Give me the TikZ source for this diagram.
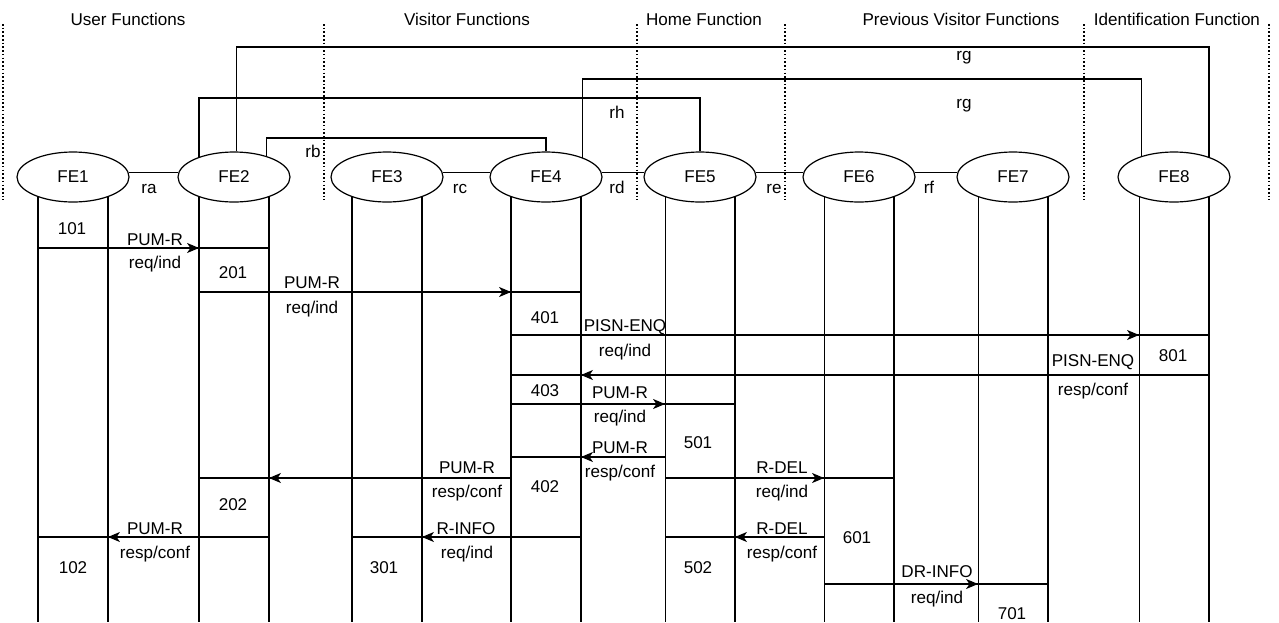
\documentclass[tikz,border=0pt]{standalone}
\usepackage{fontspec}
\setmainfont{Liberation Sans}
\usetikzlibrary{shapes.geometric,arrows.meta}

\tikzset{
  fe/.style={ellipse, draw, minimum width=84pt, minimum height=37.5pt, inner sep=0pt},
  lbl/.style={anchor=base, inner sep=0.75pt},
  msg/.style={-{Stealth[length=9pt,width=7.5pt,inset=2.5pt]}},
  sepline/.style={line width=1.2pt, dash pattern=on 1.2pt off 1.6pt},
}

\begin{document}
\begin{tikzpicture}[x=0.75pt,y=0.75pt,yscale=-1,xscale=1,line width=0.9pt,font=\fontsize{12.8}{15}\selectfont]
\useasboundingbox (0,0) rectangle (1279,622);

%Dotted separators
\foreach \x in {3,324,637,785,1084,1269}
  \draw [sepline] (\x,24) -- (\x,200);

% Group titles
\node (hUser) at (128,25) [lbl] {User Functions};
\node (hVisitor) at (467,25) [lbl] {Visitor Functions};
\node (hHome) at (704,25) [lbl] {Home Function};
\node (hPrev) at (961,25) [lbl] {Previous Visitor Functions};
\node (hIdent) at (1177,25) [lbl] {Identification Function};

%Functional entities
\node (FE1) at (73,177) [fe] {FE1};
\node (FE2) at (234,177) [fe] {FE2};
\node (FE3) at (387,177) [fe] {FE3};
\node (FE4) at (546,177) [fe] {FE4};
\node (FE5) at (700,177) [fe] {FE5};
\node (FE6) at (859,177) [fe] {FE6};
\node (FE7) at (1013,177) [fe] {FE7};
\node (FE8) at (1174,177) [fe] {FE8};

%Lifelines
\foreach \i in {1,...,8}{
  \coordinate (L\i) at (FE\i.210);
  \coordinate (R\i) at (FE\i.330);
  \draw (L\i) -- (L\i |- 0,622);
  \draw (R\i) -- (R\i |- 0,622);
}

%Relationships
\draw (FE1.5) -- (FE2.175);
\draw (FE3.5) -- (FE4.175);
\draw (FE4.5) -- (FE5.175);
\draw (FE5.5) -- (FE6.175);
\draw (FE6.5) -- (FE7.175);
\draw (FE2.33) -- (FE2.33 |- 0,138) -| (FE4.north);
\draw (FE2.150) -- (FE2.150 |- 0,98) -| (FE5.north);
\draw (FE2.85) -- (FE2.85 |- 0,47) -| (FE8.30);
\draw (FE4.28) -- (FE4.28 |- 0,79) -| (FE8.147);

\node (ra) at (149,193) [lbl] {ra};
\node (rb) at (313,157) [lbl] {rb};
\node (rc) at (460,193) [lbl] {rc};
\node (rd) at (617,193) [lbl] {rd};
\node (rh) at (617,118) [lbl] {rh};
\node (re) at (774,193) [lbl] {re};
\node (rf) at (929,193) [lbl] {rf};
\node (rg1) at (964,60) [lbl] {rg};
\node (rg2) at (964,108) [lbl] {rg};

%Information flows
\draw (L1 |- 0,248) -- (R2 |- 0,248);
\draw [msg] (R1 |- 0,248) -- (L2 |- 0,248);
\draw (L2 |- 0,292) -- (R4 |- 0,292);
\draw [msg] (R2 |- 0,292) -- (L4 |- 0,292);
\draw (L4 |- 0,335) -- (R8 |- 0,335);
\draw [msg] (R4 |- 0,335) -- (L8 |- 0,335);
\draw (R8 |- 0,375) -- (L4 |- 0,375);
\draw [msg] (L8 |- 0,375) -- (R4 |- 0,375);
\draw (L4 |- 0,404) -- (R5 |- 0,404);
\draw [msg] (R4 |- 0,404) -- (L5 |- 0,404);
\draw (L5 |- 0,457) -- (L4 |- 0,457);
\draw [msg] (L5 |- 0,457) -- (R4 |- 0,457);
\draw (L4 |- 0,478) -- (L2 |- 0,478);
\draw [msg] (L4 |- 0,478) -- (R2 |- 0,478);
\draw (L5 |- 0,478) -- (R6 |- 0,478);
\draw [msg] (R5 |- 0,478) -- (L6 |- 0,478);
\draw (R2 |- 0,537) -- (L1 |- 0,537);
\draw [msg] (L2 |- 0,537) -- (R1 |- 0,537);
\draw (R4 |- 0,537) -- (L3 |- 0,537);
\draw [msg] (L4 |- 0,537) -- (R3 |- 0,537);
\draw (L6 |- 0,537) -- (L5 |- 0,537);
\draw [msg] (L6 |- 0,537) -- (R5 |- 0,537);
\draw (L6 |- 0,584) -- (R7 |- 0,584);
\draw [msg] (R6 |- 0,584) -- (L7 |- 0,584);

% Text Node
\node (n101) at (72,234) [lbl] {101};
\node (f1a) at (155,245) [lbl] {PUM-R};
\node (f1b) at (155,268) [lbl] {req/ind};
\node (n201) at (233,278) [lbl] {201};
\node (f2a) at (312,288) [lbl] {PUM-R};
\node (f2b) at (312,313) [lbl] {req/ind};
\node (n401) at (545,323) [lbl] {401};
\node (f3a) at (625,331) [lbl] {PISN-ENQ};
\node (f3b) at (625,356) [lbl] {req/ind};
\node (n801) at (1173,361) [lbl] {801};
\node (f4a) at (1093,366) [lbl] {PISN-ENQ};
\node (f4b) at (1093,395) [lbl] {resp/conf};
\node (n403) at (545,396) [lbl] {403};
\node (f5a) at (620,398) [lbl] {PUM-R};
\node (f5b) at (620,422) [lbl] {req/ind};
\node (n501) at (698,448) [lbl] {501};
\node (f6a) at (620,453) [lbl] {PUM-R};
\node (f6b) at (620,477) [lbl] {resp/conf};
\node (f7a) at (467,473) [lbl] {PUM-R};
\node (f7b) at (467,497) [lbl] {resp/conf};
\node (n402) at (545,492) [lbl] {402};
\node (f8a) at (782,473) [lbl] {R-DEL};
\node (f8b) at (782,497) [lbl] {req/ind};
\node (n202) at (233,510) [lbl] {202};
\node (f9a) at (155,534) [lbl] {PUM-R};
\node (f9b) at (155,558) [lbl] {resp/conf};
\node (n102) at (73,573) [lbl] {102};
\node (f10a) at (466,534) [lbl] {R-INFO};
\node (f10b) at (467,558) [lbl] {req/ind};
\node (n301) at (384,573) [lbl] {301};
\node (f11a) at (782,534) [lbl] {R-DEL};
\node (f11b) at (782,558) [lbl] {resp/conf};
\node (n502) at (698,573) [lbl] {502};
\node (n601) at (857,543) [lbl] {601};
\node (f12a) at (937,577) [lbl] {DR-INFO};
\node (f12b) at (937,603) [lbl] {req/ind};
\node (n701) at (1012,619) [lbl] {701};

\end{tikzpicture}
\end{document}
